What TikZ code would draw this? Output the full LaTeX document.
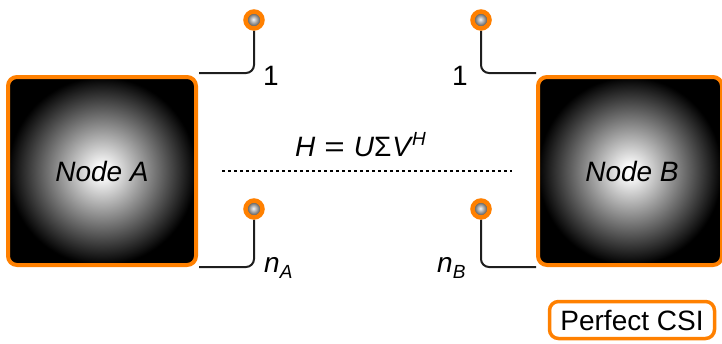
\documentclass[tikz,border=0pt]{standalone}
\usepackage{fontspec}
\setmainfont{Liberation Sans}
\definecolor{orng}{RGB}{255,128,0}
\definecolor{wirec}{RGB}{30,30,30}
\pgfdeclareradialshading{nodeshade}{\pgfpoint{0bp}{0bp}}{color(0bp)=(white); color(2bp)=(white!97!black); color(25bp)=(black); color(50bp)=(black)}
\pgfdeclareradialshading{antshade}{\pgfpoint{-2bp}{2bp}}{color(0bp)=(white!92!gray); color(22bp)=(gray!55!black); color(50bp)=(gray!55!black)}
\newcommand{\bigf}{\fontsize{28}{30}\selectfont}
\newcommand{\subf}{\fontsize{19}{20}\selectfont}
\begin{document}
\begin{tikzpicture}[x=1pt,y=-1pt,
  nodebox/.style={draw=orng, line width=4pt, rounded corners=9pt, shading=nodeshade,
    minimum height=188pt, inner sep=0pt, font=\bigf\itshape, text=black},
  ant/.style={circle, draw=orng, line width=4.5pt, shading=antshade, minimum size=17pt, inner sep=0pt},
  wire/.style={draw=wirec, line width=2pt, rounded corners=8pt},
  lbl/.style={font=\bigf, inner sep=0pt},
  dotline/.style={draw=black, line width=2.6pt, dash pattern=on 2.6pt off 3.4pt},
  csibox/.style={draw=orng, line width=3.5pt, rounded corners=9pt, minimum width=165pt, minimum height=37pt, inner sep=0pt, font=\bigf}]
\useasboundingbox (0,0) rectangle (722,343);
\clip (0,0) rectangle (722,343);
% nodes
\node[nodebox, minimum width=188pt] (A) at (102,171) {Node A};
\node[nodebox, minimum width=184pt] (B) at (630,171) {\hspace*{4pt}Node B};
% antennas
\node[ant] (a1) at (254,20) {};
\node[ant] (a2) at (254,209) {};
\node[ant] (b1) at (481,20) {};
\node[ant] (b2) at (481,209) {};
\coordinate (ca1) at (199,73);
\coordinate (ca2) at (199,267);
\coordinate (cb1) at (536,73);
\coordinate (cb2) at (536,267);
\draw[wire] (a1) |- (ca1);
\draw[wire] (a2) |- (ca2);
\draw[wire] (b1) |- (cb1);
\draw[wire] (b2) |- (cb2);
% labels
\node[lbl, anchor=base] (l1) at (271,85) {1};
\node[lbl, anchor=base west] (lnA) at (264,272) {\itshape n\raisebox{-6pt}{\subf A}};
\node[lbl, anchor=base] (l2) at (460,85) {1};
\node[lbl, anchor=base west] (lnB) at (437,272) {\itshape n\raisebox{-6pt}{\subf B}};
% channel
\coordinate (d1) at (222,171);
\coordinate (d2) at (512,171);
\draw[dotline] (d1) -- (d2);
\node[lbl, anchor=base west] (H) at (295,156) {\itshape H\hspace{9pt}\upshape\scalebox{1.25}[1]{=}\hspace{9pt}\itshape U\upshape Σ\hspace{1pt}\itshape V\hspace{1pt}\raisebox{11pt}{\subf\itshape H}};
% perfect CSI
\node[csibox] (csi) at (632,320) {Perfect CSI};
\end{tikzpicture}
\end{document}
